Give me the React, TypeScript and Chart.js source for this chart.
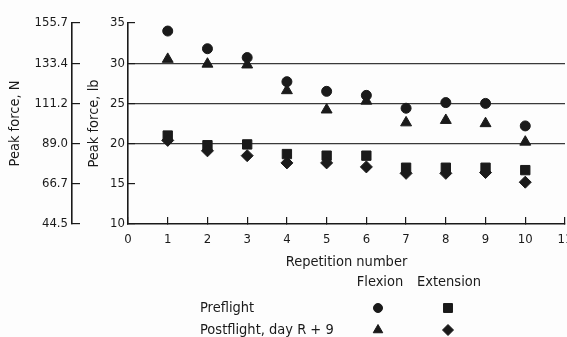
import React, { useEffect, useRef } from "react";
import { Chart, registerables } from "chart.js";
import { drawPoint } from "chart.js/helpers";

Chart.register(...registerables);

// Repetition numbers (x) and peak force in lb for each condition
const repetitions = [1, 2, 3, 4, 5, 6, 7, 8, 9, 10];
const preflightFlexion = [34.0, 31.8, 30.7, 27.7, 26.5, 26.0, 24.4, 25.1, 25.0, 22.2];
const postflightFlexion = [30.5, 29.9, 29.8, 26.6, 24.2, 25.3, 22.6, 22.9, 22.5, 20.2];
const preflightExtension = [21.0, 19.8, 19.9, 18.7, 18.5, 18.5, 17.0, 17.0, 17.0, 16.7];
const postflightExtension = [20.4, 19.1, 18.5, 17.6, 17.6, 17.1, 16.3, 16.3, 16.4, 15.2];

// Axis ticks
const poundTicks = [10, 15, 20, 25, 30, 35];
const newtonTicks = [44.5, 66.7, 89.0, 111.2, 133.4, 155.7];
const referenceLines = [20, 25, 30];

const INK = "#1a1a1a";
const FONT = '"DejaVu Sans Condensed", "Liberation Sans Narrow", "Roboto Condensed", "DejaVu Sans", sans-serif';

const toPoints = (ys: number[]) => repetitions.map((x, i) => ({ x, y: ys[i] }));

// Axis caption under the x scale plus the symbol key table
const legendPlugin = {
  id: "legendTable",
  afterDraw(chart: any) {
    const ctx = chart.ctx as CanvasRenderingContext2D;
    const area = chart.chartArea;
    ctx.save();
    ctx.fillStyle = INK;
    ctx.textBaseline = "middle";
    ctx.font = `14.5px ${FONT}`;
    ctx.textAlign = "center";
    ctx.fillText("Repetition number", (area.left + area.right) / 2, 262);
    ctx.fillText("Flexion", 380, 282);
    ctx.fillText("Extension", 449, 282);
    ctx.textAlign = "left";
    ctx.fillText("Preflight", 200, 308);
    ctx.fillText("Postflight, day R + 9", 200, 330);
    const mark = (style: string, radius: number, x: number, y: number) => {
      ctx.fillStyle = INK;
      ctx.strokeStyle = INK;
      ctx.lineWidth = 1;
      drawPoint(ctx, { pointStyle: style, radius, rotation: 0, borderWidth: 1 } as any, x, y);
    };
    mark("circle", 4.5, 378, 308);
    mark("rect", 6.3, 448, 308);
    mark("triangle", 5.5, 378, 330);
    mark("rectRot", 5.5, 448, 330);
    ctx.restore();
  },
};

export default function App() {
  const canvasRef = useRef<HTMLCanvasElement | null>(null);

  useEffect(() => {
    const canvas = canvasRef.current;
    if (!canvas) return;
    const dataset = (label: string, ys: number[], pointStyle: string, radius: number) => ({
      label,
      data: toPoints(ys),
      xAxisID: "x",
      yAxisID: "y",
      pointStyle,
      pointRadius: radius,
      pointHoverRadius: radius,
      backgroundColor: INK,
      borderColor: INK,
      borderWidth: 1,
      showLine: false,
    });
    const chart = new Chart(canvas, {
      type: "scatter",
      data: {
        datasets: [
          dataset("Postflight, day R + 9 (Extension)", postflightExtension, "rectRot", 6),
          dataset("Preflight (Extension)", preflightExtension, "rect", 6.6),
          dataset("Postflight, day R + 9 (Flexion)", postflightFlexion, "triangle", 6.3),
          dataset("Preflight (Flexion)", preflightFlexion, "circle", 5),
        ],
      },
      options: {
        responsive: false,
        animation: false,
        events: [],
        layout: { padding: { left: 0, right: 35, top: 23, bottom: 83 } },
        plugins: { legend: { display: false }, tooltip: { enabled: false } },
        scales: {
          x: {
            type: "linear",
            min: 0,
            max: 11,
            afterFit: (s: any) => { s.height = 30; },
            ticks: { stepSize: 1, color: INK, padding: 15, font: { family: FONT, size: 13 } },
            grid: { drawOnChartArea: false, tickLength: -7, tickColor: INK, lineWidth: 1.2 },
            border: { display: true, color: INK, width: 1.6 },
          },
          yN: {
            type: "linear",
            position: "left",
            weight: 1,
            min: newtonTicks[0],
            max: newtonTicks[newtonTicks.length - 1],
            afterFit: (s: any) => { s.width = 72; },
            afterBuildTicks: (s: any) => { s.ticks = newtonTicks.map((v) => ({ value: v })); },
            ticks: {
              color: INK,
              padding: 12,
              font: { family: FONT, size: 13 },
              callback: (v: any) => Number(v).toFixed(1),
            },
            grid: { drawOnChartArea: false, tickLength: -8, tickColor: INK, lineWidth: 1.2 },
            border: { display: true, color: INK, width: 1.6 },
            title: { display: true, text: "Peak force, N", color: INK, font: { family: FONT, size: 14.5 }, padding: { top: 7, bottom: 0 } },
          },
          y: {
            type: "linear",
            position: "left",
            weight: 0,
            min: 10,
            max: 35,
            afterFit: (s: any) => { s.width = 56; },
            afterBuildTicks: (s: any) => { s.ticks = poundTicks.map((v) => ({ value: v })); },
            ticks: { color: INK, padding: 10, font: { family: FONT, size: 13 } },
            grid: {
              drawOnChartArea: true,
              tickLength: -7,
              tickColor: INK,
              lineWidth: 1.2,
              color: (c: any) => (referenceLines.includes(c.tick?.value) ? "#3a3a3a" : "rgba(0,0,0,0)"),
            },
            border: { display: true, color: INK, width: 1.6 },
            title: { display: true, text: "Peak force, lb", color: INK, font: { family: FONT, size: 14.5 }, padding: { top: 14, bottom: 0 } },
          },
        },
      },
      plugins: [legendPlugin],
    } as any);
    return () => chart.destroy();
  }, []);

  return (
    <div style={{ position: "absolute", left: 0, top: 0, width: 567, height: 337, overflow: "hidden", background: "#fdfdfd" }}>
      <canvas ref={canvasRef} width={600} height={337} style={{ display: "block" }} />
    </div>
  );
}
